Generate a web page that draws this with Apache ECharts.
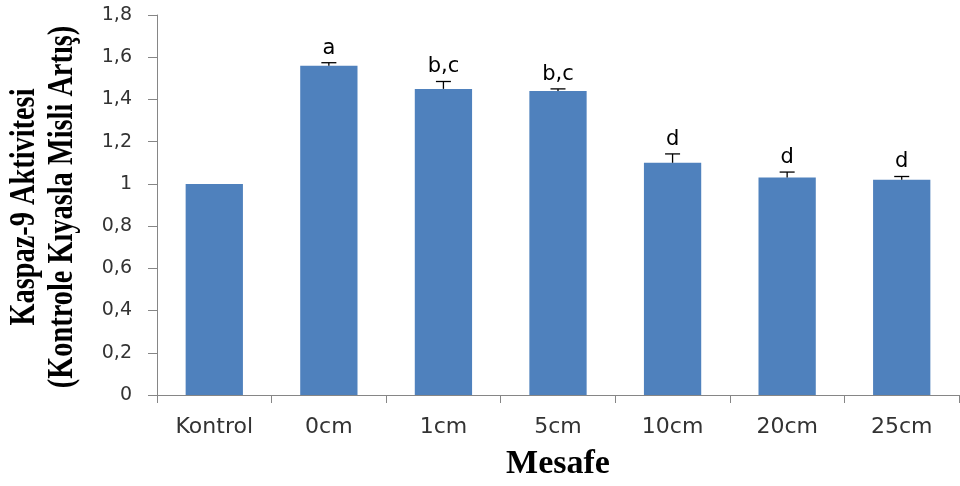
<!DOCTYPE html>
<html>
<head>
<meta charset="utf-8">
<script src="https://cdn.jsdelivr.net/npm/echarts@6/dist/echarts.min.js"></script>
<style>
  html, body { margin: 0; padding: 0; background: #ffffff; }
  #chart { width: 960px; height: 486px; }
</style>
</head>
<body>
<div id="chart"></div>
<script>
// Caspase-9 activity relative to control, by distance
const categories = ['Kontrol', '0cm', '1cm', '5cm', '10cm', '20cm', '25cm'];
const activity = [1.00, 1.56, 1.45, 1.44, 1.10, 1.03, 1.02];
const errorUp = [0, 0.014, 0.035, 0.010, 0.042, 0.026, 0.015];
const groupLetters = ['', 'a', 'b,c', 'b,c', 'd', 'd', 'd'];
const yTickLabels = ['0', '0,2', '0,4', '0,6', '0,8', '1', '1,2', '1,4', '1,6', '1,8'];
const yStep = 0.2;

const axisGray = '#868686';
const textDark = '#333333';

const chart = echarts.init(document.getElementById('chart'), null, { renderer: 'canvas' });

const errorData = activity.map((v, i) => [i, v, errorUp[i]]);

chart.setOption({
  animation: false,
  backgroundColor: '#ffffff',
  grid: { left: 157, right: 1, top: 15, bottom: 89, containLabel: false },
  xAxis: {
    type: 'category',
    data: categories,
    name: 'Mesafe',
    nameLocation: 'middle',
    nameGap: 52,
    nameTextStyle: {
      fontFamily: 'Liberation Serif',
      fontWeight: 'bold',
      fontSize: 34,
      color: '#000000'
    },
    axisLine: { lineStyle: { color: axisGray, width: 1 } },
    axisTick: { show: true, length: 8, inside: false, lineStyle: { color: axisGray } },
    axisLabel: {
      margin: 21,
      fontFamily: 'DejaVu Sans',
      fontSize: 22,
      color: textDark
    },
    splitLine: { show: false }
  },
  yAxis: {
    type: 'value',
    min: 0,
    max: 1.8,
    interval: yStep,
    axisLine: { show: true, lineStyle: { color: axisGray, width: 1 } },
    axisTick: { show: true, length: 9, inside: false, lineStyle: { color: axisGray } },
    axisLabel: {
      margin: 25,
      fontFamily: 'DejaVu Sans',
      fontSize: 19,
      color: textDark,
      formatter: v => yTickLabels[Math.round(v / yStep)]
    },
    splitLine: { show: false }
  },
  graphic: [{
    type: 'text',
    x: 44,
    y: 207,
    rotation: Math.PI / 2,
    scaleX: 0.81,
    style: {
      text: 'Kaspaz-9 Aktivitesi\n(Kontrole Kıyasla Misli Artış)',
      x: 0,
      y: 0,
      align: 'center',
      verticalAlign: 'middle',
      fontFamily: 'Liberation Serif',
      fontWeight: 'bold',
      fontSize: 35,
      lineHeight: 38,
      fill: '#000000'
    }
  }],
  series: [
    {
      type: 'bar',
      data: activity,
      barCategoryGap: '50%',
      itemStyle: { color: '#4F81BD' },
      z: 2
    },
    {
      type: 'custom',
      data: errorData,
      encode: { x: 0, y: 1 },
      z: 3,
      renderItem: function (params, api) {
        const idx = api.value(0);
        const val = api.value(1);
        const err = api.value(2);
        const base = api.coord([idx, val]);
        const top = api.coord([idx, val + err]);
        const children = [];
        const capHalf = 7.5;
        if (err > 0) {
          children.push({
            type: 'line',
            shape: { x1: base[0], y1: base[1], x2: top[0], y2: top[1] },
            style: { stroke: '#000000', lineWidth: 1.3 }
          });
          children.push({
            type: 'line',
            shape: { x1: top[0] - capHalf, y1: top[1], x2: top[0] + capHalf, y2: top[1] },
            style: { stroke: '#000000', lineWidth: 1.3 }
          });
        }
        const letter = groupLetters[idx];
        if (letter) {
          children.push({
            type: 'text',
            style: {
              text: letter,
              x: top[0],
              y: top[1] - 4,
              align: 'center',
              verticalAlign: 'bottom',
              fontFamily: 'DejaVu Sans',
              fontSize: 21,
              fill: '#000000'
            }
          });
        }
        return { type: 'group', children: children };
      }
    }
  ]
});
</script>
</body>
</html>
